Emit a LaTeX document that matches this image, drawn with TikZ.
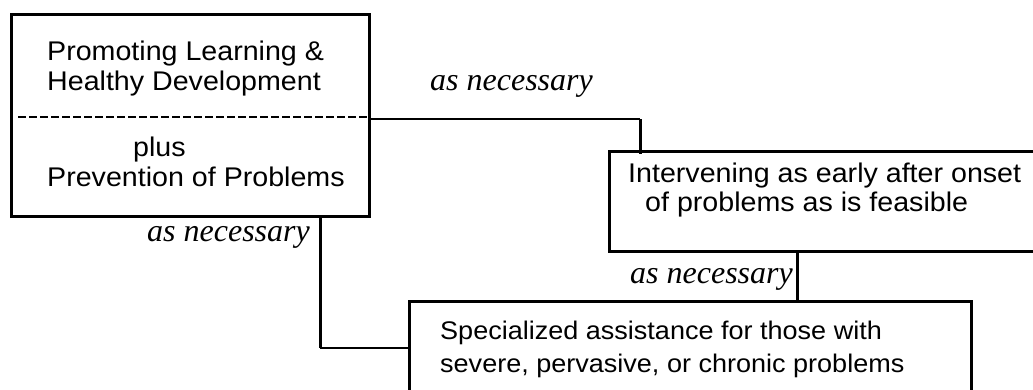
\documentclass[tikz,border=0pt]{standalone}
\usepackage{fontspec}
\setmainfont{Liberation Serif}
\newfontfamily\boxfont[FakeStretch=1.06]{Liberation Sans}
\begin{document}
\begin{tikzpicture}[x=1pt,y=-1pt,
  box/.style={draw=black, line width=3pt, rectangle, anchor=north west, inner sep=0pt, fill=white},
  txt/.style={anchor=base west, inner sep=0pt, font=\boxfont\fontsize{27}{30}\selectfont},
  txtsmall/.style={anchor=base west, inner sep=0pt, font=\boxfont\fontsize{25.5}{30}\selectfont},
  lbl/.style={anchor=base west, inner sep=0pt, font=\itshape\fontsize{32}{36}\selectfont},
  hline/.style={line width=1.8pt},
  vline/.style={line width=3pt},
  dashline/.style={line width=2.2pt, dash pattern=on 8pt off 3pt}]
\useasboundingbox (0,0) rectangle (1033,389);
\clip (0,0) rectangle (1033,389);
\fill[white] (0,0) rectangle (1033,389);
% boxes
\node[box, minimum width=358pt, minimum height=202pt] (b1) at (10,13) {};
\node[box, minimum width=460pt, minimum height=100pt] (b2) at (608,150) {};
\node[box, minimum width=562pt, minimum height=130pt] (b3) at (408,300) {};
% box 1 texts
\node[txt] (t1a) at (47,60.5) {Promoting Learning \&};
\node[txt] (t1b) at (47,90.5) {Healthy Development};
\coordinate (d1) at (18,117);
\draw[dashline] (d1) -- (b1.east |- d1);
\node[txt] (t1c) at (133,156) {plus};
\node[txt] (t1d) at (47,186) {Prevention of Problems};
% box 2 texts
\node[txt] (t2a) at (628,182) {Intervening as early after onset};
\node[txt] (t2b) at (645,211) {of problems as is feasible};
% box 3 texts
\node[txtsmall] (t3a) at (440,339.5) {Specialized assistance for those with};
\node[txtsmall] (t3b) at (440,372) {severe, pervasive, or chronic problems};
% connectors
\coordinate (c1) at (640,119);
\draw[hline] (b1.east |- c1) -- (c1);
\draw[vline] (c1) -- ([yshift=-4pt]b2.north -| c1);
\coordinate (c2) at (320,348);
\draw[vline] (b1.south -| c2) -- (c2);
\draw[hline] (c2) -- (b3.west |- c2);
\coordinate (c3) at (797,0);
\draw[vline] (b2.south -| c3) -- (b3.north -| c3);
% labels
\node[lbl] (l1) at (430,90.5) {as necessary};
\node[lbl] (l2) at (147,241.5) {as necessary};
\node[lbl] (l3) at (630,283) {as necessary};
\end{tikzpicture}
\end{document}
